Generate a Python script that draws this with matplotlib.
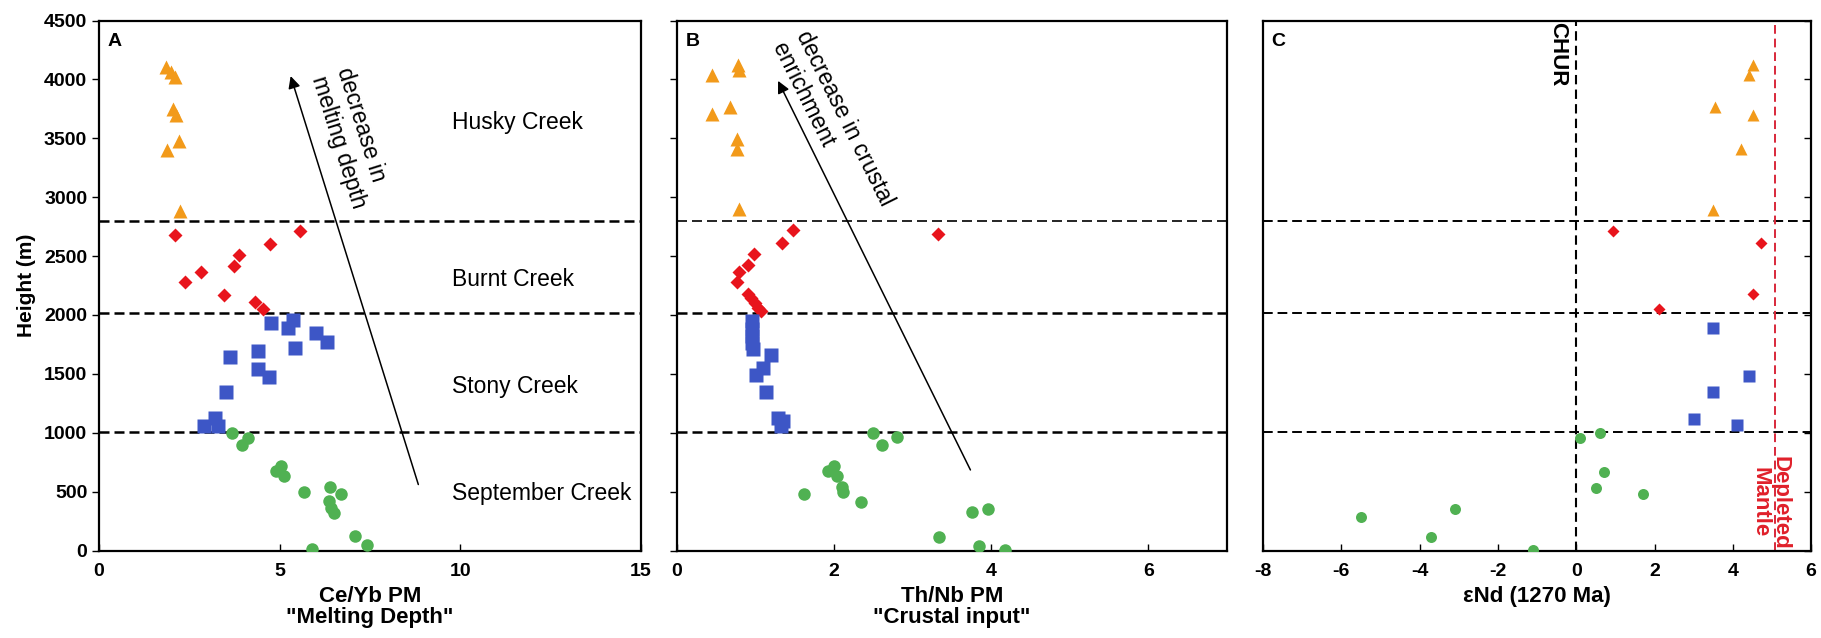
import numpy as np
import matplotlib.pyplot as plt

plt.rcParams['font.family'] = ['Liberation Sans', 'DejaVu Sans']
plt.rcParams['axes.unicode_minus'] = False

# ---- data ----
# Husky Creek (orange triangles)
husky_h = [4108, 4066, 4023, 3753, 3696, 3474, 3398, 2887]
husky_ceyb = [1.85, 2.00, 2.09, 2.06, 2.13, 2.21, 1.88, 2.25]
husky_h_b = [4037, 4122, 4079, 3710, 3767, 3497, 3412, 2901]
husky_thnb = [0.44, 0.78, 0.79, 0.45, 0.67, 0.76, 0.76, 0.79]
husky_h_c = [4122, 4037, 3767, 3702, 3406, 2893]
husky_end = [4.51, 4.42, 3.55, 4.51, 4.21, 3.49]

# Burnt Creek (red diamonds)
burnt_h = [2680, 2276, 2362, 2168, 2418, 2509, 2603, 2711, 2111, 2055]
burnt_ceyb = [2.09, 2.38, 2.82, 3.45, 3.73, 3.86, 4.74, 5.57, 4.31, 4.54]
burnt_h_b = [2722, 2611, 2518, 2427, 2367, 2282, 2177, 2140, 2100, 2063, 2035, 2688]
burnt_thnb = [1.48, 1.34, 0.98, 0.90, 0.79, 0.76, 0.90, 0.94, 0.99, 1.03, 1.07, 3.32]
burnt_h_c = [2716, 2611, 2177, 2055]
burnt_end = [0.94, 4.73, 4.51, 2.12]

# Stony Creek (blue squares)
stony_h = [1936, 1893, 1958, 1845, 1774, 1717, 1694, 1646, 1538, 1472, 1348, 1126, 1055, 1061]
stony_ceyb = [4.77, 5.23, 5.37, 6.00, 6.32, 5.43, 4.40, 3.62, 4.40, 4.70, 3.50, 3.20, 2.90, 3.29]
stony_h_b = [1950, 1879, 1822, 1765, 1708, 1657, 1552, 1487, 1348, 1126, 1098, 1055]
stony_thnb = [0.96, 0.96, 0.96, 0.96, 0.97, 1.19, 1.10, 1.01, 1.13, 1.29, 1.35, 1.32]
stony_h_c = [1890, 1481, 1348, 1118, 1063]
stony_end = [3.49, 4.42, 3.49, 3.02, 4.11]

# September Creek (green circles)
sept_h = [998, 956, 893, 672, 714, 629, 496, 538, 481, 422, 359, 322, 124, 47, 10]
sept_ceyb = [3.69, 4.11, 3.97, 4.91, 5.04, 5.11, 5.67, 6.38, 6.69, 6.36, 6.41, 6.50, 7.09, 7.42, 5.90]
sept_h_b = [998, 961, 896, 714, 672, 629, 538, 493, 481, 416, 325, 356, 118, 38, 4]
sept_thnb = [2.50, 2.80, 2.61, 2.00, 1.92, 2.03, 2.10, 2.11, 1.61, 2.34, 3.75, 3.96, 3.34, 3.84, 4.18]
sept_h_c = [956, 998, 666, 530, 481, 354, 283, 112, 4]
sept_end = [0.10, 0.60, 0.70, 0.51, 1.70, -3.10, -5.51, -3.71, -1.11]

boundaries = [2800, 2015, 1003]
unit_names = ["Husky Creek", "Burnt Creek", "Stony Creek", "September Creek"]
unit_label_h = [3633, 2299, 1390, 481]
chur = 0
depleted_mantle = 5.08

orange = "#F29A1A"
red = "#E8141C"
blue = "#3D56C6"
green = "#50B152"

fig = plt.figure(figsize=(18.21, 6.38), dpi=100)
axA = fig.add_axes([0.0544, 0.1371, 0.2976, 0.8307])
axB = fig.add_axes([0.3718, 0.1371, 0.3020, 0.8307])
axC = fig.add_axes([0.6936, 0.1371, 0.3010, 0.8307])


def plot_units(ax, xs, ys, scale=1.0):
    ax.plot(xs[0], ys[0], '^', color=orange, ms=10.5 * scale, mec='none', ls='none', zorder=3)
    ax.plot(xs[1], ys[1], 'D', color=red, ms=7 * scale, mec='none', ls='none', zorder=3)
    ax.plot(xs[2], ys[2], 's', color=blue, ms=9.5 * scale, mec='none', ls='none', zorder=3)
    ax.plot(xs[3], ys[3], 'o', color=green, ms=9 * scale, mec='none', ls='none', zorder=3)


plot_units(axA, [husky_ceyb, burnt_ceyb, stony_ceyb, sept_ceyb], [husky_h, burnt_h, stony_h, sept_h])
plot_units(axB, [husky_thnb, burnt_thnb, stony_thnb, sept_thnb], [husky_h_b, burnt_h_b, stony_h_b, sept_h_b])
plot_units(axC, [husky_end, burnt_end, stony_end, sept_end], [husky_h_c, burnt_h_c, stony_h_c, sept_h_c], 0.88)

for ax in (axA, axB, axC):
    ax.set_ylim(0, 4500)
    ax.set_yticks(np.arange(0, 4501, 500))
    for s in ax.spines.values():
        s.set_linewidth(1.6)
    ax.tick_params(axis='x', direction='in', length=5, width=1, labelsize=14, pad=9)
    for lab in ax.get_xticklabels():
        lab.set_fontweight('bold')

# dashed unit boundaries
for b in boundaries:
    axA.axhline(b, color='black', lw=1.8, dashes=(4, 2), zorder=1)
    axB.axhline(b, color='black', lw=1.2 if b == 2800 else 1.8, dashes=(6, 3) if b == 2800 else (4, 2), zorder=1)
    axC.axhline(b, color='black', lw=1.4, dashes=(5, 2.5), zorder=1)

# panel A
axA.set_xlim(0, 15)
axA.set_xticks([0, 5, 10, 15])
axA.tick_params(axis='y', direction='out', length=5, width=1, labelsize=14)
for lab in axA.get_yticklabels():
    lab.set_fontweight('bold')
axA.set_ylabel("Height (m)", fontsize=15, fontweight='bold', labelpad=6)
axA.set_xlabel('Ce/Yb PM\n"Melting Depth"', fontsize=16, fontweight='bold', labelpad=4, linespacing=1.0)
for name, h in zip(unit_names, unit_label_h):
    axA.text(9.76, h, name, fontsize=16.5, va='center', ha='left')
axA.annotate('', xy=(5.28, 4051), xytext=(8.86, 538),
             arrowprops=dict(arrowstyle='-|>', color='black', lw=1.1, mutation_scale=18))
axA.text(6.40, 4060, "decrease in\nmelting depth", rotation=-72.6, rotation_mode='anchor',
         ha='left', va='center', multialignment='left', fontsize=16.5)

# panel B
axB.set_xlim(0, 7)
axB.set_xticks([0, 2, 4, 6])
axB.tick_params(axis='y', direction='out', length=5, width=1, labelleft=False)
axB.set_xlabel('Th/Nb PM\n"Crustal input"', fontsize=16, fontweight='bold', labelpad=4, linespacing=1.0)
axB.annotate('', xy=(1.27, 4009), xytext=(3.75, 663),
             arrowprops=dict(arrowstyle='-|>', color='black', lw=1.1, mutation_scale=18))
axB.text(1.44, 4349, "decrease in crustal\nenrichment", rotation=-63.6, rotation_mode='anchor',
         ha='left', va='center', multialignment='left', fontsize=16.5)

# panel C
axC.set_xlim(-8, 6)
axC.set_xticks(np.arange(-8, 7, 2))
axC.tick_params(axis='y', direction='in', length=5, width=1, left=False, right=True,
                labelleft=False, labelright=False)
axC.set_xlabel("εNd (1270 Ma)", fontsize=16, fontweight='bold', labelpad=4)
axC.axvline(chur, color='black', lw=1.5, dashes=(4.5, 2.5), zorder=1)
axC.axvline(depleted_mantle, color='#D8283A', lw=1.4, dashes=(4.5, 2.5), zorder=1)
axC.text(-0.2, 4490, "CHUR", rotation=-90, ha='right', va='top', fontsize=16, fontweight='bold')
axC.text(4.95, 805, "Depleted\nMantle", rotation=-90, ha='center', va='top',
         fontsize=16, fontweight='bold', color='#E0202A', linespacing=0.95, clip_on=True)

for ax, lab in zip((axA, axB, axC), "ABC"):
    ax.text(0.015, 0.977, lab, transform=ax.transAxes, ha='left', va='top',
            fontsize=14, fontweight='bold')

fig.savefig("out.png", dpi=100)
